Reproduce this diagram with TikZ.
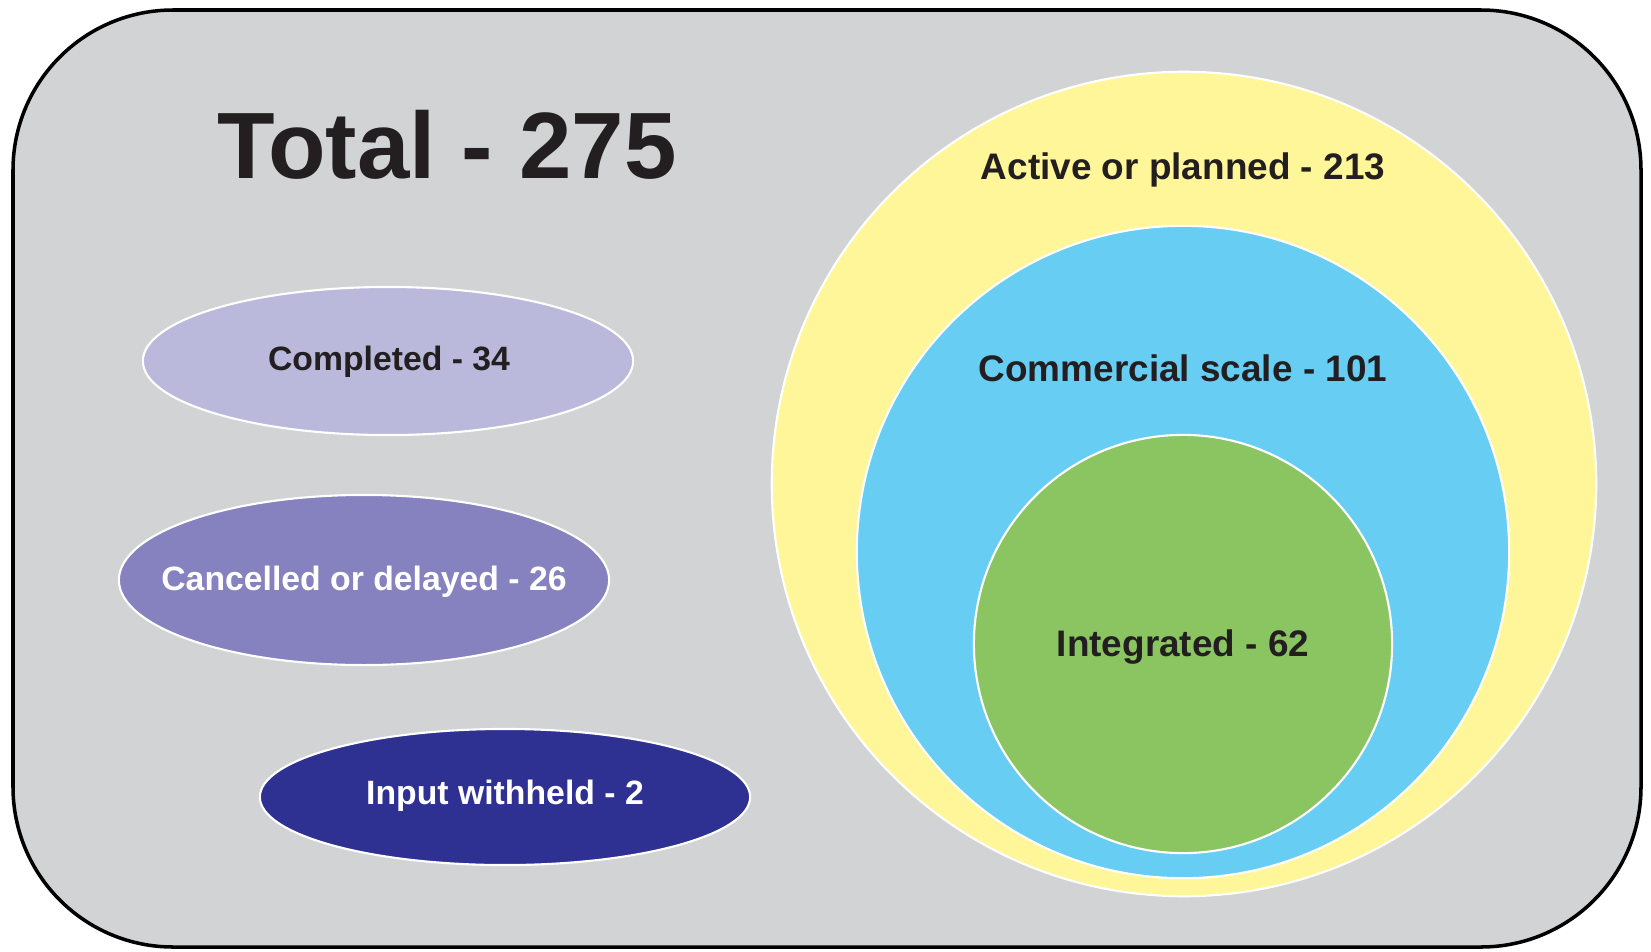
\documentclass[tikz,border=0pt]{standalone}
\usepackage{fontspec}
\setmainfont{Liberation Sans}
\usetikzlibrary{shapes.geometric}

\definecolor{boxgray}{RGB}{209,211,212}
\definecolor{activeyellow}{RGB}{255,246,153}
\definecolor{commblue}{RGB}{104,205,243}
\definecolor{integgreen}{RGB}{139,197,98}
\definecolor{donelilac}{RGB}{186,185,220}
\definecolor{cancelpurple}{RGB}{134,130,192}
\definecolor{heldnavy}{RGB}{46,49,146}
\definecolor{inkdark}{RGB}{35,31,32}

\tikzset{
    blob/.style={ellipse, draw=white, line width=0.6pt, inner sep=0pt},
    ring/.style={circle, draw=white, line width=0.6pt, inner sep=0pt},
    tag/.style={anchor=base, inner sep=0pt, text=inkdark,
        font=\bfseries\fontsize{10.5}{12}\selectfont},
    smalltag/.style={tag, font=\bfseries\fontsize{9.6}{11}\selectfont},
}

\begin{document}
\begin{tikzpicture}[x=0.01cm, y=-0.01cm]

    \useasboundingbox (0, 0) rectangle (1651, 951);

    % outer frame
    \draw[fill=boxgray, line width=1pt, rounded corners=1.6cm] (13, 10) rectangle (1641, 947);

    \node[anchor=base, inner sep=0pt, text=inkdark, font=\bfseries\fontsize{26.8}{30}\selectfont]
        (total) at (447, 178) {Total - 275};

    % left side ellipses
    \node[blob, fill=donelilac, minimum width=4.9cm, minimum height=1.48cm] (done) at (388, 361) {};
    \node[blob, fill=cancelpurple, minimum width=4.9cm, minimum height=1.7cm] (cancel) at (364, 580) {};
    \node[blob, fill=heldnavy, minimum width=4.9cm, minimum height=1.36cm] (held) at (505, 797) {};

    \node[smalltag] (donetext) at (389, 370) {Completed - 34};
    \node[smalltag, text=white] (canceltext) at (364, 590) {Cancelled or delayed - 26};
    \node[smalltag, text=white] (heldtext) at (505, 804) {Input withheld - 2};

    % nested circles
    \node[ring, fill=activeyellow, minimum size=8.24cm] (active) at (1184, 484) {};
    \node[ring, fill=commblue, minimum size=6.52cm] (comm) at (1183, 552) {};
    \node[ring, fill=integgreen, minimum size=4.18cm] (integ) at (1183, 644) {};

    \node[tag] (activetext) at (1183, 179) {Active or planned - 213};
    \node[tag] (commtext) at (1183, 381) {Commercial scale - 101};
    \node[tag] (integtext) at (1183, 656) {Integrated - 62};

\end{tikzpicture}
\end{document}
